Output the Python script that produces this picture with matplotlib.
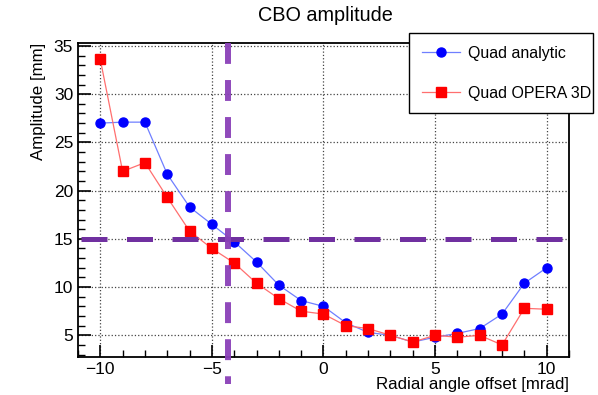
import matplotlib
matplotlib.use('Agg')
import matplotlib.pyplot as plt
from matplotlib.ticker import MultipleLocator

plt.rcParams['font.family'] = ['Liberation Sans', 'DejaVu Sans']

offset = [-10, -9, -8, -7, -6, -5, -4, -3, -2, -1, 0, 1, 2, 3, 4, 5, 6, 7, 8, 9, 10]
quad_analytic = [27.0, 27.1, 27.1, 21.7, 18.3, 16.5, 14.7, 12.6, 10.2, 8.6, 8.0,
                 6.3, 5.3, 5.0, 4.3, 4.8, 5.2, 5.7, 7.2, 10.4, 12.0]
quad_opera = [33.6, 22.0, 22.9, 19.3, 15.8, 14.0, 12.5, 10.4, 8.8, 7.5, 7.2,
              6.0, 5.7, 5.0, 4.3, 5.0, 4.8, 5.0, 4.0, 7.8, 7.7]
h_cut = 15.0
v_cut = -4.29

fig = plt.figure(figsize=(5.98, 3.95), dpi=100)
ax = fig.add_axes([0.1304, 0.0962, 0.8211, 0.7948])

ax.plot(offset, quad_analytic, color='#6f7fff', lw=0.9, marker='o', ms=6.5,
        mfc='blue', mec='blue', label='Quad analytic', zorder=3)
ax.plot(offset, quad_opera, color='#ff6f6f', lw=0.9, marker='s', ms=6.5,
        mfc='red', mec='red', label='Quad OPERA 3D', zorder=3)

# cut lines
ax.plot([-10.85, 11], [h_cut, h_cut], color='#7030a0', lw=3.6,
        dashes=(5.2, 3.9), dash_capstyle='butt', zorder=4, clip_on=False)
ax.plot([v_cut, v_cut], [35.3, 0.0], color='#8a40b8', lw=4.3, alpha=0.95,
        dashes=(3.5, 2.7), dash_capstyle='butt', zorder=4, clip_on=False)

ax.set_xlim(-11, 11)
ax.set_ylim(2.75, 35.3)
ax.xaxis.set_major_locator(MultipleLocator(5))
ax.xaxis.set_minor_locator(MultipleLocator(1))
ax.yaxis.set_major_locator(MultipleLocator(5))
ax.yaxis.set_minor_locator(MultipleLocator(1))
ax.tick_params(which='both', direction='in', labelsize=12.5, top=False, right=False)
ax.tick_params(which='major', length=9, width=1.2)
ax.tick_params(which='minor', length=5, width=1.0)
ax.set_xticks([-10, -5, 0, 5, 10])
ax.set_xticklabels(['\u221210', '\u22125', '0', '5', '10'])
ax.grid(which='major', ls=':', color='#444444', lw=0.9)
for s in ax.spines.values():
    s.set_linewidth(1.3)

ax.set_xlabel('Radial angle offset [mrad]', fontsize=12.2, loc='right', labelpad=0)
ax.set_ylabel('Amplitude [mm]', fontsize=12.2, loc='top')
ax.yaxis.set_label_coords(-0.066, 1.0)
fig.text(0.5435, 0.96, 'CBO amplitude', fontsize=14.3, ha='center', va='center')

leg = ax.legend(loc='upper left', mode='expand',
                bbox_to_anchor=(409 / 598, 1 - 111 / 395, 184 / 598, 78 / 395),
                bbox_transform=fig.transFigure, fontsize=11.5,
                frameon=True, fancybox=False, borderpad=0.8, labelspacing=1.55,
                handlelength=2.4, handletextpad=0.5, borderaxespad=0)
leg.get_frame().set_edgecolor('black')
leg.get_frame().set_linewidth(1.0)
leg.get_frame().set_alpha(1)
leg.set_zorder(10)

fig.savefig('out.png', dpi=100)
